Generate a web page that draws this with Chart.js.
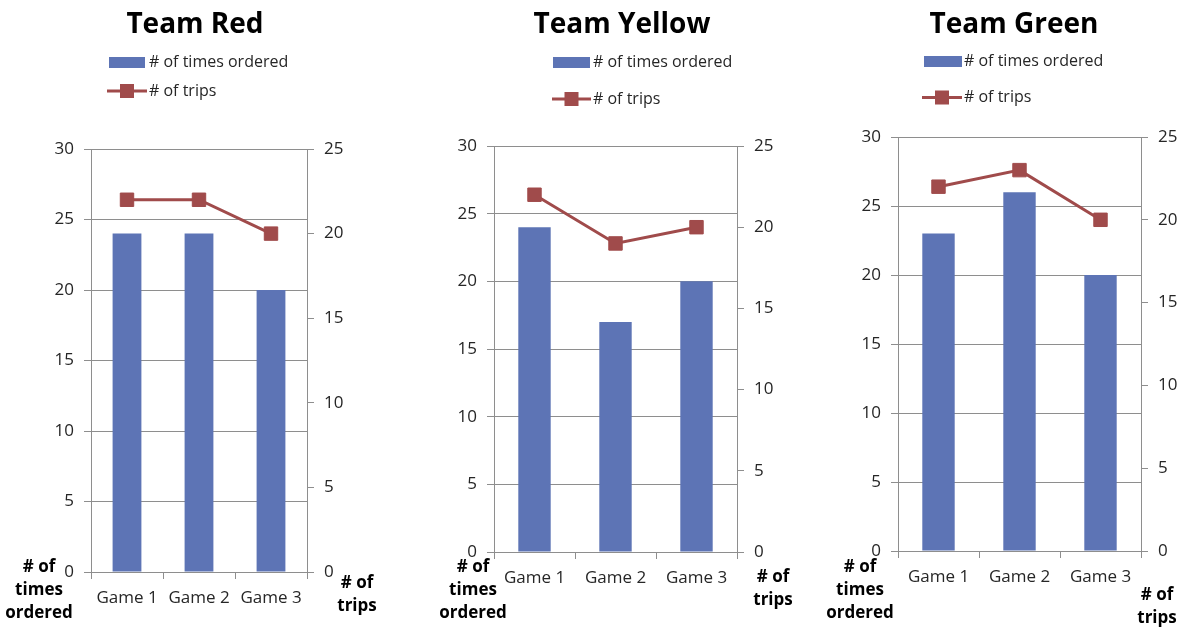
<!DOCTYPE html>
<html>
<head>
<meta charset="utf-8">
<script src="https://cdn.jsdelivr.net/npm/chart.js@4.4.1/dist/chart.umd.min.js"></script>
<style>
  html, body { margin: 0; padding: 0; background: #fff; width: 1185px; height: 628px; overflow: hidden; }
  canvas { position: absolute; top: 0; }
</style>
</head>
<body>
<canvas id="cRed" width="400" height="628" style="left:0px"></canvas>
<canvas id="cYellow" width="400" height="628" style="left:400px"></canvas>
<canvas id="cGreen" width="385" height="628" style="left:800px"></canvas>
<script>
// ---- data ----
const games = ['Game 1', 'Game 2', 'Game 3'];
const teamNames = ['Team Red', 'Team Yellow', 'Team Green'];
const seriesNames = ['# of times ordered', '# of trips'];

const redOrdered = [24, 24, 20];
const redTrips = [22, 22, 20];
const yellowOrdered = [24, 17, 20];
const yellowTrips = [22, 19, 20];
const greenOrdered = [23, 26, 20];
const greenTrips = [22, 23, 20];

const orderedAxisMax = 30;
const tripsAxisMax = 25;
const tickStep = 5;

const leftAxisTitle = ['# of', 'times', 'ordered'];
const rightAxisTitle = ['# of', 'trips'];

// ---- styling ----
const BAR_BLUE = '#5d74b5';
const LINE_RED = '#a04b4b';
const GRID = '#8e8e8e';
const TEXT = '#262626';
const FONT = "'Open Sans', sans-serif";

Chart.defaults.font.family = FONT;
Chart.defaults.font.size = 17;
Chart.defaults.color = TEXT;

const Y_W = 50, Y1_W = 40, X_H = 40, H = 628;

// per-panel layout, page coordinates
const panels = [
  { id: 'cRed', left: 0, width: 400, title: teamNames[0], ordered: redOrdered, trips: redTrips,
    plot: { l: 91, r: 307, t: 149, b: 572 }, titleX: 195,
    legend: { swX0: 109, swX1: 145, row1: 62, lnX0: 107, lnX1: 147, row2: 91, textX: 149 },
    leftTitle: { x: 39, ys: [567, 590, 613] }, rightTitle: { x: 357, ys: [583, 606] } },
  { id: 'cYellow', left: 400, width: 400, title: teamNames[1], ordered: yellowOrdered, trips: yellowTrips,
    plot: { l: 494, r: 737, t: 146, b: 552 }, titleX: 622,
    legend: { swX0: 553, swX1: 590, row1: 62, lnX0: 552, lnX1: 591, row2: 99, textX: 593 },
    leftTitle: { x: 473, ys: [567, 590, 613] }, rightTitle: { x: 773, ys: [577, 600] } },
  { id: 'cGreen', left: 800, width: 385, title: teamNames[2], ordered: greenOrdered, trips: greenTrips,
    plot: { l: 898, r: 1141, t: 137, b: 551 }, titleX: 1014,
    legend: { swX0: 924, swX1: 962, row1: 61, lnX0: 922, lnX1: 962, row2: 97.5, textX: 964 },
    leftTitle: { x: 860, ys: [567, 590, 613] }, rightTitle: { x: 1157, ys: [595, 618] } }
];

// Draws the panel title, the stacked legend and the two axis titles
const panelText = {
  id: 'panelText',
  afterDraw(chart, args, opts) {
    const p = opts.panel;
    if (!p) return;
    const ctx = chart.ctx;
    const ox = p.left;
    const lineDs = chart.data.datasets[0];
    const barDs = chart.data.datasets[1];
    ctx.save();
    // title
    ctx.fillStyle = '#000';
    ctx.font = 'bold 28px ' + FONT;
    ctx.textAlign = 'center';
    ctx.textBaseline = 'alphabetic';
    ctx.fillText(p.title, p.titleX - ox, 33);

    // legend
    const lg = p.legend;
    ctx.fillStyle = barDs.backgroundColor;
    ctx.fillRect(lg.swX0 - ox, lg.row1 - 5, lg.swX1 - lg.swX0, 11);
    ctx.strokeStyle = lineDs.borderColor;
    ctx.lineWidth = 3;
    ctx.beginPath();
    ctx.moveTo(lg.lnX0 - ox, lg.row2);
    ctx.lineTo(lg.lnX1 - ox, lg.row2);
    ctx.stroke();
    const mx = (lg.lnX0 + lg.lnX1) / 2 - ox;
    ctx.fillStyle = lineDs.backgroundColor;
    ctx.fillRect(mx - 7, lg.row2 - 7, 14, 14);

    ctx.fillStyle = TEXT;
    ctx.font = '16px ' + FONT;
    ctx.textAlign = 'left';
    ctx.textBaseline = 'middle';
    ctx.fillText(barDs.label, lg.textX - ox, lg.row1);
    ctx.fillText(lineDs.label, lg.textX - ox, lg.row2);

    // axis titles
    ctx.fillStyle = '#000';
    ctx.font = 'bold 17px ' + FONT;
    ctx.textAlign = 'center';
    leftAxisTitle.forEach((t, i) => ctx.fillText(t, p.leftTitle.x - ox, p.leftTitle.ys[i]));
    rightAxisTitle.forEach((t, i) => ctx.fillText(t, p.rightTitle.x - ox, p.rightTitle.ys[i]));
    ctx.restore();
  }
};

panels.forEach(p => {
  const pad = {
    left: p.plot.l - p.left - Y_W,
    right: p.width - Y1_W - (p.plot.r - p.left),
    top: p.plot.t,
    bottom: H - X_H - p.plot.b
  };
  new Chart(document.getElementById(p.id), {
    type: 'bar',
    data: {
      labels: games,
      datasets: [
        {
          type: 'line', label: seriesNames[1], data: p.trips, yAxisID: 'y1',
          borderColor: LINE_RED, backgroundColor: LINE_RED, borderWidth: 3,
          pointStyle: 'rect', pointRadius: 9.5, pointHoverRadius: 9.5, pointBorderWidth: 1,
          tension: 0, order: 0
        },
        {
          type: 'bar', label: seriesNames[0], data: p.ordered, yAxisID: 'y',
          backgroundColor: BAR_BLUE, barPercentage: 0.4, categoryPercentage: 1, order: 1
        }
      ]
    },
    options: {
      responsive: false,
      animation: false,
      layout: { padding: pad },
      plugins: {
        legend: { display: false },
        title: { display: false },
        tooltip: { enabled: false },
        panelText: { panel: p }
      },
      scales: {
        x: {
          offset: true,
          grid: { drawOnChartArea: false, drawTicks: true, tickLength: 7, color: GRID, offset: true },
          border: { display: true, color: GRID },
          ticks: { padding: 9, color: TEXT, autoSkip: false, maxRotation: 0 },
          afterFit(s) { s.height = X_H; }
        },
        y: {
          position: 'left', min: 0, max: orderedAxisMax,
          ticks: { stepSize: tickStep, padding: 10, color: TEXT },
          grid: { color: GRID, tickLength: 7 },
          border: { display: true, color: GRID },
          afterFit(s) { s.width = Y_W; }
        },
        y1: {
          position: 'right', min: 0, max: tripsAxisMax,
          ticks: { stepSize: tickStep, padding: 10, color: TEXT },
          grid: { drawOnChartArea: false, color: GRID, tickLength: 7 },
          border: { display: true, color: GRID },
          afterFit(s) { s.width = Y1_W; }
        }
      }
    },
    plugins: [panelText]
  });
});
</script>
</body>
</html>
